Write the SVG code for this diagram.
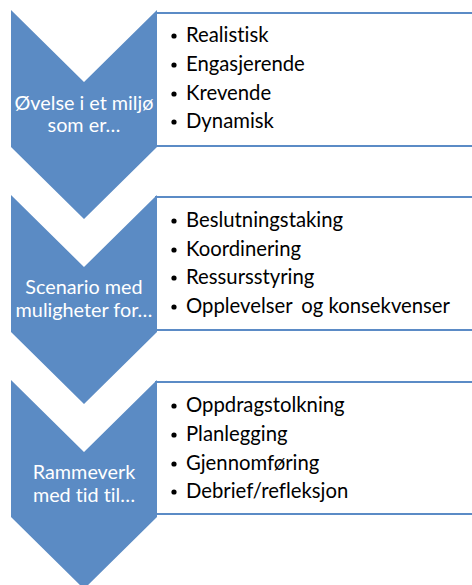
<svg xmlns="http://www.w3.org/2000/svg" width="472" height="585" viewBox="0 0 472 585">
  <style>
    .box { fill: #ffffff; stroke: #5b8bc6; stroke-width: 2; }
    .chev { fill: #5b8bc4; }
    .label { font-family: "Lato", "Liberation Sans", sans-serif; font-size: 19.8px; fill: #ffffff; text-anchor: middle; font-variant-ligatures: none; }
    .item { font-family: "Lato", "Liberation Sans", sans-serif; font-size: 20.3px; fill: #000000; font-variant-ligatures: none; }
    .dot { fill: #000000; }
  </style>
  <defs>
    <!-- downward chevron, 146 wide, sides 137 tall, 73 deep notch/point -->
    <path id="chevron" d="M0 0 L73 72 L146 0 L146 137 L73 209 L0 137 Z"/>
  </defs>

  <g id="connectors"/>

  <!-- step 1 -->
  <g id="step1">
    <rect class="box" x="156" y="13" width="330" height="133"/>
    <use href="#chevron" class="chev" x="11" y="10"/>
    <text class="label" x="84" y="110">Øvelse i et miljø</text>
    <text class="label" x="84" y="132">som er…</text>
    <g class="item">
      <circle class="dot" cx="174" cy="36" r="2.6"/><text x="186" y="42">Realistisk</text>
      <circle class="dot" cx="174" cy="65" r="2.6"/><text x="186" y="71">Engasjerende</text>
      <circle class="dot" cx="174" cy="94" r="2.6"/><text x="186" y="100">Krevende</text>
      <circle class="dot" cx="174" cy="122" r="2.6"/><text x="186" y="128">Dynamisk</text>
    </g>
  </g>

  <!-- step 2 -->
  <g id="step2">
    <rect class="box" x="156" y="197" width="330" height="133"/>
    <use href="#chevron" class="chev" x="11" y="195"/>
    <text class="label" x="84" y="294">Scenario med</text>
    <text class="label" x="84" y="317">muligheter for…</text>
    <g class="item">
      <circle class="dot" cx="174" cy="221" r="2.6"/><text x="186" y="227">Beslutningstaking</text>
      <circle class="dot" cx="174" cy="250" r="2.6"/><text x="186" y="256">Koordinering</text>
      <circle class="dot" cx="174" cy="278" r="2.6"/><text x="186" y="284">Ressursstyring</text>
      <circle class="dot" cx="174" cy="307" r="2.6"/><text x="186" y="313">Opplevelser <tspan dx="4">og konsekvenser</tspan></text>
    </g>
  </g>

  <!-- step 3 -->
  <g id="step3">
    <rect class="box" x="156" y="382" width="330" height="132"/>
    <use href="#chevron" class="chev" x="11" y="380"/>
    <text class="label" x="84" y="479">Rammeverk</text>
    <text class="label" x="84" y="502">med tid til…</text>
    <g class="item">
      <circle class="dot" cx="174" cy="406" r="2.6"/><text x="186" y="412">Oppdragstolkning</text>
      <circle class="dot" cx="174" cy="435" r="2.6"/><text x="186" y="441">Planlegging</text>
      <circle class="dot" cx="174" cy="464" r="2.6"/><text x="186" y="470">Gjennomføring</text>
      <circle class="dot" cx="174" cy="492" r="2.6"/><text x="186" y="498">Debrief/refleksjon</text>
    </g>
  </g>
</svg>
